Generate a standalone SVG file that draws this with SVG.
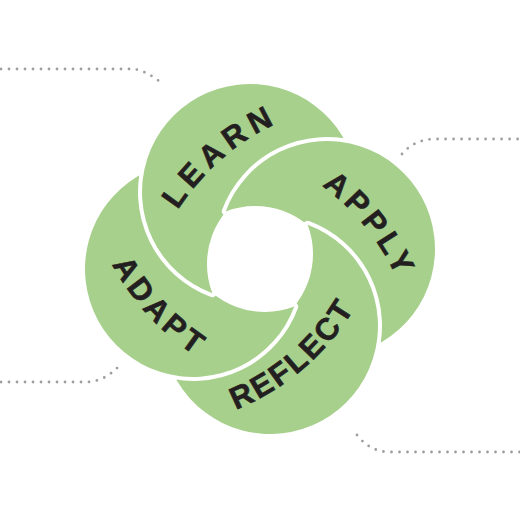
<svg xmlns="http://www.w3.org/2000/svg" xmlns:xlink="http://www.w3.org/1999/xlink" width="520" height="520" viewBox="0 0 520 520">
  <style>
    .petal { fill: #a8d08d; }
    .lbl { font-family: "Liberation Sans", Arial, sans-serif; font-weight: bold; font-size: 31px; fill: #231f20; stroke: #231f20; stroke-width: 0.6; }
    .lead { fill: none; stroke: #9e9e9e; stroke-width: 2.8; stroke-linecap: round; stroke-dasharray: 0 8; }
    .cut { fill: #000; stroke: #000; stroke-width: 8; stroke-linejoin: round; }
  </style>
  <defs>
    <path id="cres" d="M212.39,293.25 A108,108 0 1 1 355.35,215.81 A82,82 0 0 0 212.39,293.25 Z"/>
    <mask id="m-learn" maskUnits="userSpaceOnUse" x="0" y="0" width="520" height="520">
      <rect width="520" height="520" fill="#fff"/>
      <use href="#cres" class="cut" transform="rotate(90 260 259)"/>
    </mask>
    <mask id="m-apply" maskUnits="userSpaceOnUse" x="0" y="0" width="520" height="520">
      <rect width="520" height="520" fill="#fff"/>
      <use href="#cres" class="cut" transform="rotate(180 260 259)"/>
    </mask>
    <mask id="m-reflect" maskUnits="userSpaceOnUse" x="0" y="0" width="520" height="520">
      <rect width="520" height="520" fill="#fff"/>
      <use href="#cres" class="cut" transform="rotate(270 260 259)"/>
    </mask>
    <mask id="m-adapt" maskUnits="userSpaceOnUse" x="0" y="0" width="520" height="520">
      <rect width="520" height="520" fill="#fff"/>
      <use href="#cres" class="cut"/>
    </mask>
    <path id="tp-learn" d="M154.3,258.7 A234.5,234.5 0 0 1 331.3,105.8"/>
    <path id="tp-apply" d="M268.8,156.4 A234.5,234.5 0 0 1 414.7,338.6"/>
    <path id="tp-reflect" d="M184,424.2 A245.5,245.5 0 0 0 374,268"/>
    <path id="tp-adapt" d="M87.7,199.1 A255.5,255.5 0 0 0 261,387"/>
  </defs>

  <g id="connectors">
    <path class="lead" d="M1,69 H133 Q146,70 164,85"/>
    <path class="lead" d="M402,154 Q415,139 435,139 H520"/>
    <path class="lead" d="M1,382 H88 Q105,381 119,366"/>
    <path class="lead" d="M357,435 Q370,452 390,452 H520"/>
  </g>

  <g id="learn">
    <g mask="url(#m-learn)"><use href="#cres" class="petal"/></g>
    <text class="lbl" letter-spacing="6"><textPath href="#tp-learn" startOffset="50%" text-anchor="middle">LEARN</textPath></text>
  </g>
  <g id="apply">
    <g mask="url(#m-apply)"><use href="#cres" class="petal" transform="rotate(90 260 259)"/></g>
    <text class="lbl" letter-spacing="4.4"><textPath href="#tp-apply" startOffset="50%" text-anchor="middle">APPLY</textPath></text>
  </g>
  <g id="reflect">
    <g mask="url(#m-reflect)"><use href="#cres" class="petal" transform="rotate(180 260 259)"/></g>
    <text class="lbl" letter-spacing="2.5"><textPath href="#tp-reflect" startOffset="52%" text-anchor="middle">REFLECT</textPath></text>
  </g>
  <g id="adapt">
    <g mask="url(#m-adapt)"><use href="#cres" class="petal" transform="rotate(270 260 259)"/></g>
    <text class="lbl" letter-spacing="4.2"><textPath href="#tp-adapt" startOffset="50%" text-anchor="middle">ADAPT</textPath></text>
  </g>
</svg>
